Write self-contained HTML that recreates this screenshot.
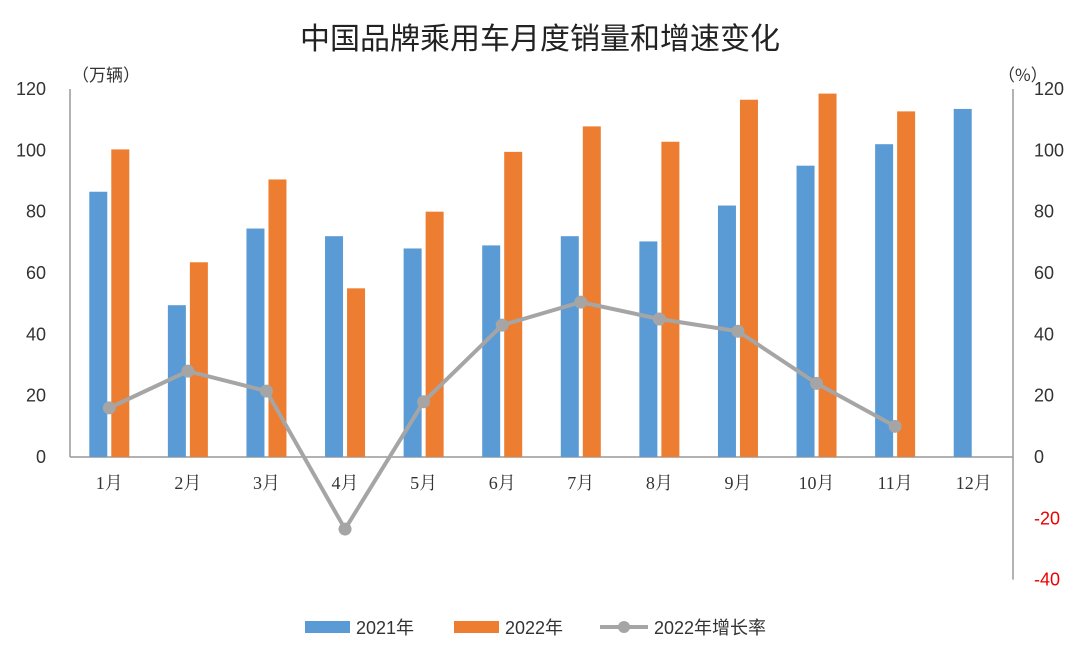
<!DOCTYPE html>
<html><head><meta charset="utf-8">
<style>
body{margin:0;background:#fff;}
svg{display:block;font-family:"Liberation Sans","Noto Sans CJK SC",sans-serif;}
</style></head>
<body>
<svg id="chart" width="1080" height="659" viewBox="0 0 1080 659">
<text x="540" y="49" text-anchor="middle" font-size="30" fill="#222" font-family="'Noto Sans CJK SC',sans-serif">中国品牌乘用车月度销量和增速变化</text>
<text x="72" y="81" font-size="17" fill="#333" font-family="'Noto Sans CJK SC',sans-serif">（万辆）</text>
<text x="998" y="81" font-size="17" fill="#333" font-family="'Noto Sans CJK SC',sans-serif">（%）</text>
<g id="plot"></g>
<g>
<rect x="305" y="621" width="45" height="12" fill="#5b9bd5"/>
<text x="356" y="634" font-size="18" fill="#333">2021年</text>
<rect x="454" y="621" width="45" height="12" fill="#ed7d31"/>
<text x="505" y="634" font-size="18" fill="#333">2022年</text>
<line x1="600" y1="627" x2="648" y2="627" stroke="#a5a5a5" stroke-width="4"/>
<circle cx="624" cy="627" r="6" fill="#a5a5a5"/>
<text x="654" y="634" font-size="18" fill="#333">2022年增长率</text>
</g>
</svg>
<script>
const categories=["1月","2月","3月","4月","5月","6月","7月","8月","9月","10月","11月","12月"];
const sales2021=[86.5,49.5,74.5,72,68,69,72,70.3,82,95,102,113.5];
const sales2022=[100.3,63.5,90.5,55,80,99.5,107.8,102.8,116.5,118.5,112.7];
const growth2022=[16,28,21.5,-23.5,18,43,50.5,45,41,24,10];
const leftTicks=[0,20,40,60,80,100,120];
const rightTicks=[-40,-20,0,20,40,60,80,100,120];

const NS="http://www.w3.org/2000/svg";
const g=document.getElementById('plot');
const X0=70,X1=1013,Y0=457,Y120=89;
const band=(X1-X0)/categories.length;
const yL=v=>Y0-(v/120)*(Y0-Y120);
const yR=v=>Y0-(v/120)*(Y0-Y120);
const xC=i=>X0+band*(i+0.5);
function mk(tag,attrs){const e=document.createElementNS(NS,tag);for(const k in attrs)e.setAttribute(k,attrs[k]);g.appendChild(e);return e;}

let e;
e=mk('line',{x1:X0,y1:Y120,x2:X0,y2:Y0,stroke:'#999','stroke-width':1.5});


e=mk('line',{x1:X1,y1:Y120,x2:X1,y2:yR(-40),stroke:'#999','stroke-width':1.5});


e=mk('line',{x1:X0,y1:Y0,x2:X1,y2:Y0,stroke:'#999','stroke-width':1.5});



leftTicks.forEach(v=>{
  e=mk('text',{x:46,y:yL(v)+6,'text-anchor':'end','font-size':18,fill:'#333'});
  e.textContent=v;
  
  
});
rightTicks.forEach(v=>{
  e=mk('text',{x:1034,y:yR(v)+6,'font-size':18,fill:v<0?'#e00':'#333'});
  e.textContent=v;
  
  
});
categories.forEach((c,i)=>{
  e=mk('text',{x:xC(i),y:Y0+32,'text-anchor':'middle','font-size':18,fill:'#333','font-family':"'Liberation Serif','Noto Serif CJK SC',serif"});
  e.textContent=c;
  
  
});
const bw=18,gap=2;
sales2021.forEach((v,i)=>{
  e=mk('rect',{x:xC(i)-gap-bw,y:yL(v),width:bw,height:Y0-yL(v),fill:'#5b9bd5'});
  
  
});
sales2022.forEach((v,i)=>{
  e=mk('rect',{x:xC(i)+gap,y:yL(v),width:bw,height:Y0-yL(v),fill:'#ed7d31'});
  
  
});
e=mk('polyline',{points:growth2022.map((v,i)=>xC(i)+','+yR(v)).join(' '),fill:'none',stroke:'#a5a5a5','stroke-width':4,'stroke-linejoin':'round'});


growth2022.forEach((v,i)=>{
  e=mk('circle',{cx:xC(i),cy:yR(v),r:6.5,fill:'#a5a5a5'});
  
  
});
</script>
</body></html>
